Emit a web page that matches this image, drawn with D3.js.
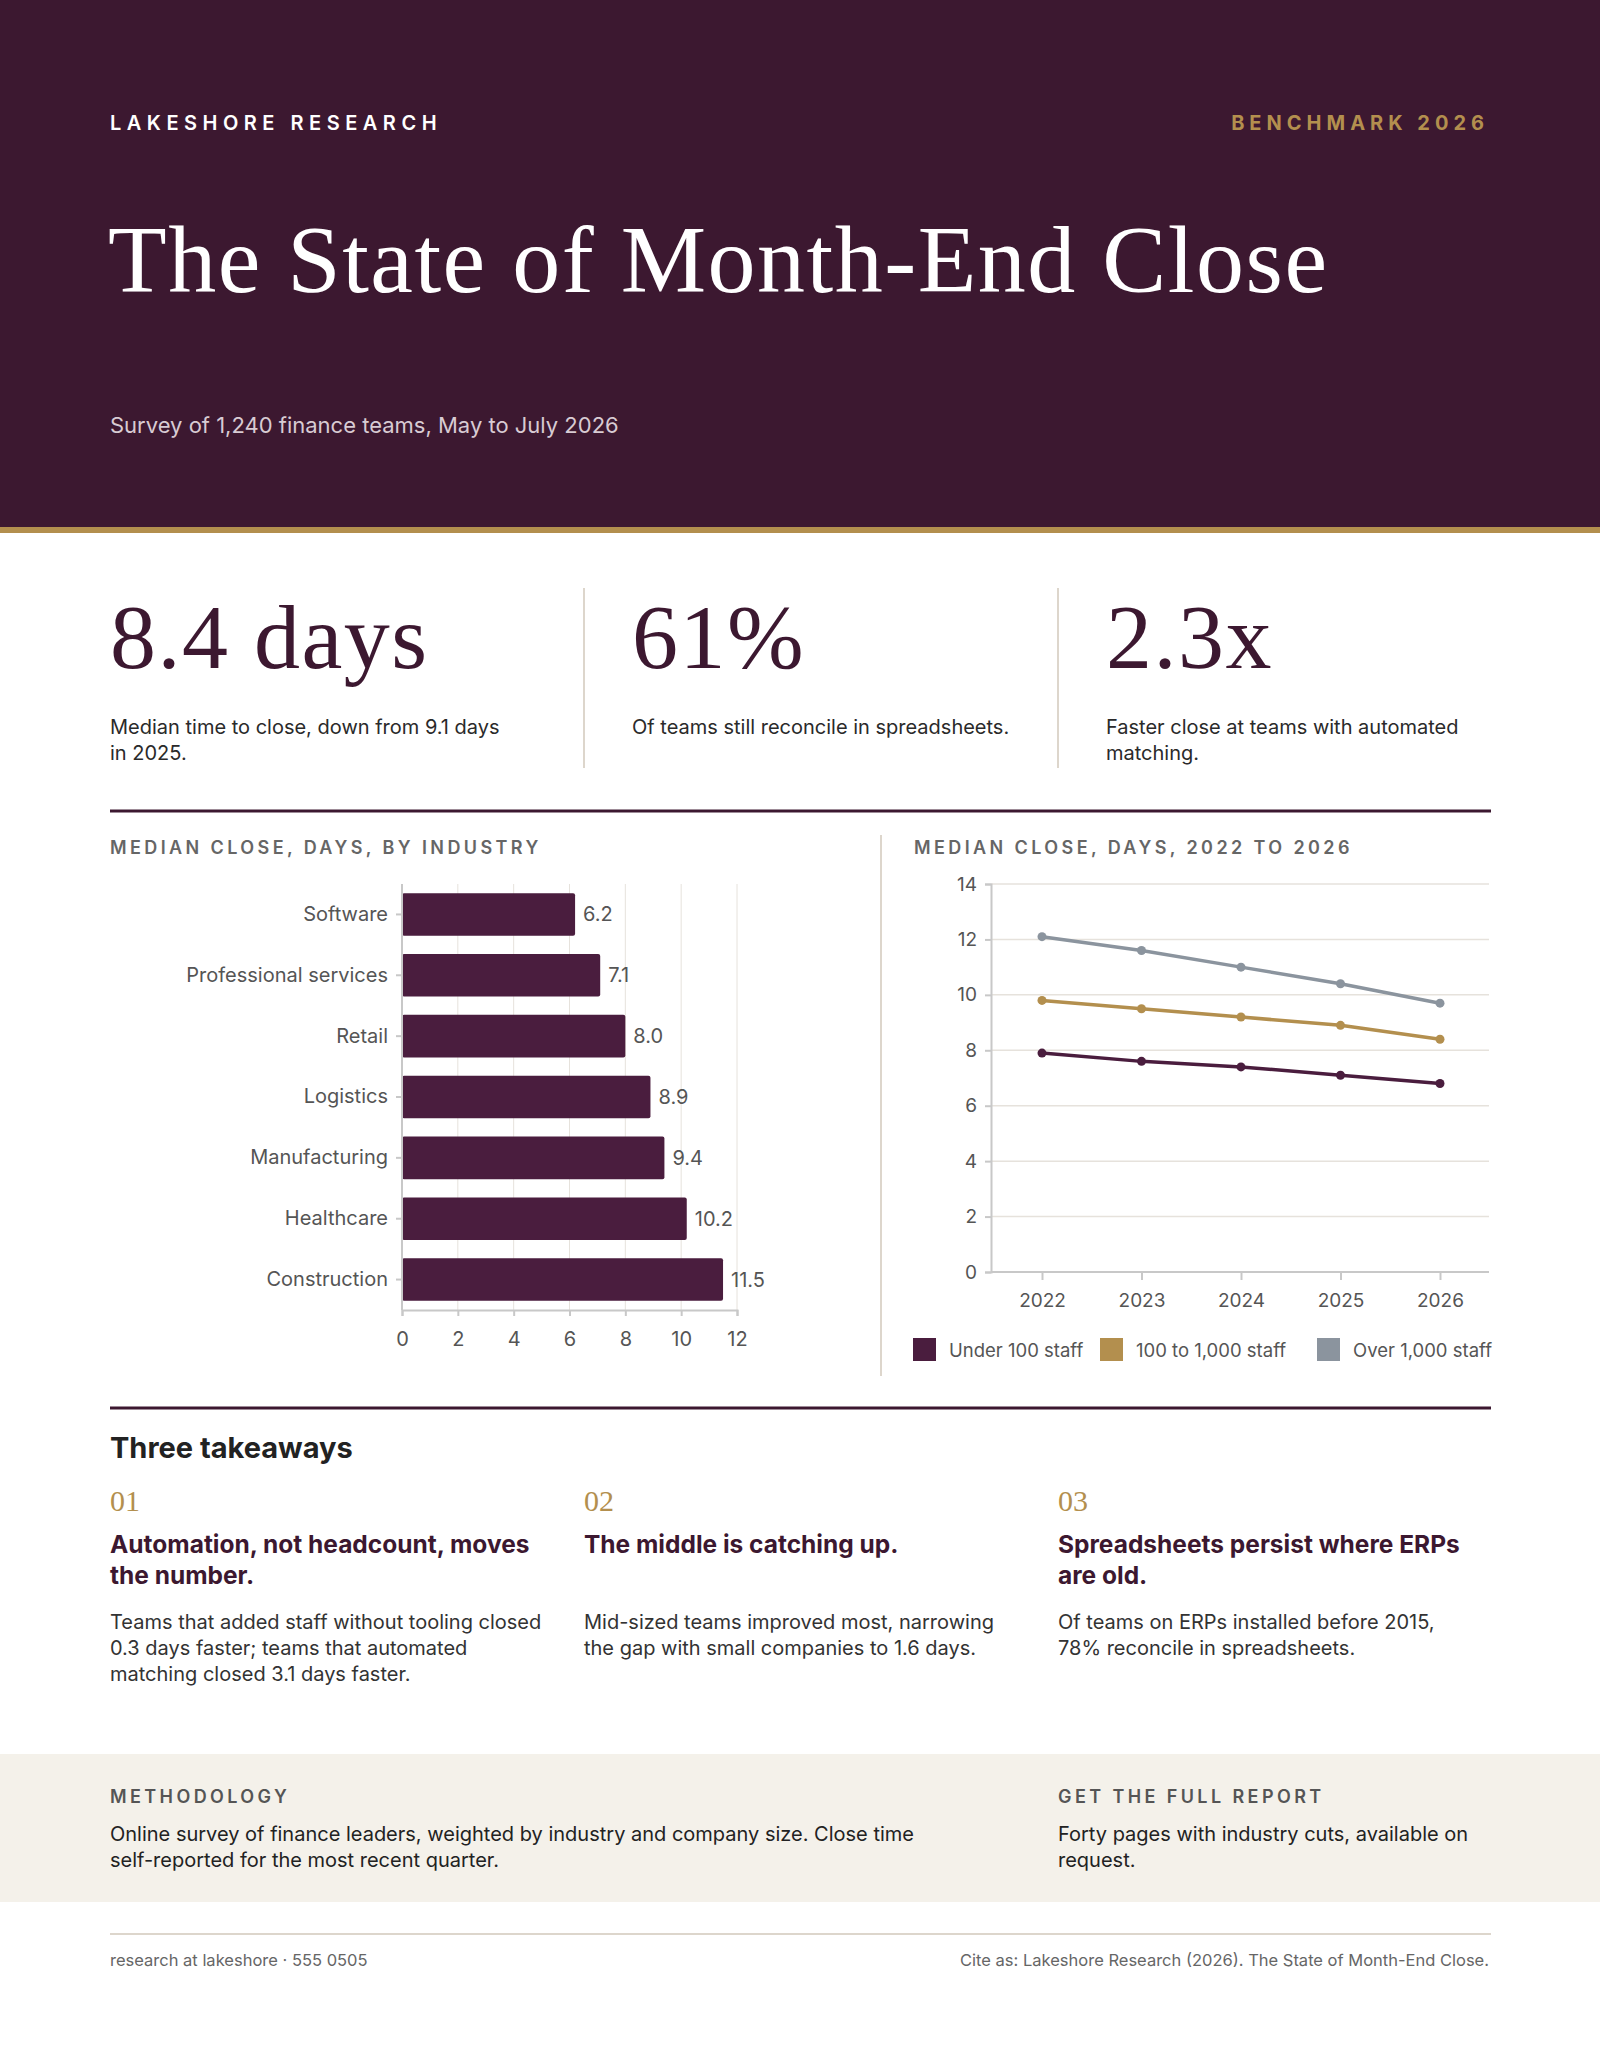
<!DOCTYPE html>
<html><head><meta charset="utf-8">
<script src="https://cdn.jsdelivr.net/npm/d3@7"></script>
<style>body{margin:0;background:#fff}svg{display:block}</style></head>
<body><svg id="c" width="1600" height="2071"></svg>
<script>
const industries=["Software","Professional services","Retail","Logistics","Manufacturing","Healthcare","Construction"];
const industryDays=[6.2,7.1,8.0,8.9,9.4,10.2,11.5];
const barTicks=[0,2,4,6,8,10,12];
const years=[2022,2023,2024,2025,2026];
const seriesNames=["Under 100 staff","100 to 1,000 staff","Over 1,000 staff"];
const under100=[7.9,7.6,7.4,7.1,6.8];
const mid=[9.8,9.5,9.2,8.9,8.4];
const over1000=[12.1,11.6,11.0,10.4,9.7];
const lineTicks=[0,2,4,6,8,10,12,14];

const P="#3c1830",BAR="#4a1d3e",GOLD="#b38f4e",GREY="#8b949e",SANS="Inter, 'Open Sans', sans-serif",SERIF="'Liberation Serif', 'DejaVu Serif', serif";
const svg=d3.select("#c");
const T=(x,y,s,o={})=>{const t=svg.append("text").attr("x",x).attr("y",y).text(s)
 .attr("font-family",o.f||SANS).attr("font-size",o.s||20).attr("fill",o.c||"#2a2a2a")
 .attr("font-weight",o.w||400).attr("text-anchor",o.a||"start");
 if(o.ls)t.attr("letter-spacing",o.ls);return t;};

// header
svg.append("rect").attr("width",1600).attr("height",527).attr("fill",P);
svg.append("rect").attr("y",527).attr("width",1600).attr("height",6).attr("fill",GOLD);
T(110,130,"LAKESHORE RESEARCH",{s:20,c:"#fff",w:600,ls:5.5});
T(1489,130,"BENCHMARK 2026",{s:20,c:GOLD,w:700,ls:5,a:"end"});
T(108,292,"The State of Month-End Close",{f:SERIF,s:96,c:"#fff",ls:1.5});
T(110,433,"Survey of 1,240 finance teams, May to July 2026",{s:22,c:"#d8cbd3"});

// stats
const stats=[[110,"8.4 days",["Median time to close, down from 9.1 days","in 2025."]],
 [632,"61%",["Of teams still reconcile in spreadsheets."]],
 [1106,"2.3x",["Faster close at teams with automated","matching."]]];
stats.forEach(([x,big,lines])=>{T(x,668,big,{f:SERIF,s:92,c:P,ls:1.5});
 lines.forEach((l,i)=>T(x,734+i*26,l,{s:20}));});
[584,1058].forEach(x=>svg.append("line").attr("x1",x).attr("x2",x).attr("y1",588).attr("y2",768).attr("stroke","#ddd6cc").attr("stroke-width",2));
[811,1408].forEach(y=>svg.append("rect").attr("x",110).attr("y",y-1.5).attr("width",1381).attr("height",3).attr("fill",P));

// bar chart
T(110,854,"MEDIAN CLOSE, DAYS, BY INDUSTRY",{s:18,c:"#666",w:600,ls:3.4});
const x=d3.scaleLinear().domain([0,12]).range([402,737]);
const y=d3.scaleBand().domain(industries).range([884,1310]).paddingInner(0.3).paddingOuter(0.15);
const gb=svg.append("g");
gb.selectAll("line.g").data(barTicks.slice(1)).join("line").attr("x1",d=>x(d)).attr("x2",d=>x(d)).attr("y1",884).attr("y2",1310).attr("stroke","#e6e2dc");
gb.selectAll("rect").data(industries).join("rect").attr("x",x(0)).attr("y",d=>y(d)).attr("height",y.bandwidth())
 .attr("width",(d,i)=>x(industryDays[i])-x(0)).attr("fill",BAR).attr("rx",2);
gb.selectAll("text.v").data(industries).join("text").attr("x",(d,i)=>x(industryDays[i])+8).attr("y",d=>y(d)+y.bandwidth()/2+7)
 .text((d,i)=>industryDays[i].toFixed(1)).attr("font-family",SANS).attr("font-size",20).attr("fill","#555");
const ax=svg.append("g").attr("transform","translate(0,1310)").call(d3.axisBottom(x).tickValues(barTicks).tickSize(6).tickPadding(16));
const ay=svg.append("g").attr("transform","translate(402,0)").call(d3.axisLeft(y).tickSize(6).tickPadding(8));
[ax,ay].forEach(a=>{a.selectAll("path,line").attr("stroke","#c8c8c8").attr("stroke-width",2);
 a.selectAll("text").attr("font-family",SANS).attr("font-size",20).attr("fill","#555");});
ay.select(".domain").attr("d","M0,884V1310");

svg.append("line").attr("x1",881).attr("x2",881).attr("y1",835).attr("y2",1376).attr("stroke","#ddd6cc").attr("stroke-width",2);

// line chart
T(914,854,"MEDIAN CLOSE, DAYS, 2022 TO 2026",{s:18,c:"#666",w:600,ls:3.4});
const lx=d3.scalePoint().domain(years).range([1042,1440]);
const ly=d3.scaleLinear().domain([0,14]).range([1272,884]);
svg.append("g").selectAll("line").data(lineTicks.slice(1)).join("line").attr("x1",991).attr("x2",1489)
 .attr("y1",d=>ly(d)).attr("y2",d=>ly(d)).attr("stroke","#e6e2dc").attr("stroke-width",1.5);
const lax=svg.append("g").attr("transform","translate(0,1272)").call(d3.axisBottom(lx).tickSize(8).tickPadding(14));
lax.select(".domain").attr("d","M991,0H1489");
const lay=svg.append("g").attr("transform","translate(991,0)").call(d3.axisLeft(ly).tickValues(lineTicks).tickSize(6).tickPadding(8));
[lax,lay].forEach(a=>{a.selectAll("path,line").attr("stroke","#c8c8c8").attr("stroke-width",2);
 a.selectAll("text").attr("font-family",SANS).attr("font-size",19).attr("fill","#555");});
const series=[under100,mid,over1000],cols=[BAR,GOLD,GREY];
const line=d3.line().x((d,i)=>lx(years[i])).y(d=>ly(d));
series.forEach((s,k)=>{svg.append("path").attr("d",line(s)).attr("fill","none").attr("stroke",cols[k]).attr("stroke-width",3.5);
 svg.append("g").selectAll("circle").data(s).join("circle").attr("cx",(d,i)=>lx(years[i])).attr("cy",d=>ly(d)).attr("r",4.5).attr("fill",cols[k]);});
const lgx=[913,1100,1317];
seriesNames.forEach((n,k)=>{svg.append("rect").attr("x",lgx[k]).attr("y",1338).attr("width",23).attr("height",23).attr("fill",cols[k]);
 T(lgx[k]+36,1357,n,{s:18.5,c:"#555"});});

// takeaways
T(110,1458,"Three takeaways",{s:29,w:700,c:"#222"});
const tk=[["01",["Automation, not headcount, moves","the number."],["Teams that added staff without tooling closed","0.3 days faster; teams that automated","matching closed 3.1 days faster."]],
 ["02",["The middle is catching up."],["Mid-sized teams improved most, narrowing","the gap with small companies to 1.6 days."]],
 ["03",["Spreadsheets persist where ERPs","are old."],["Of teams on ERPs installed before 2015,","78% reconcile in spreadsheets."]]];
[110,584,1058].forEach((xx,i)=>{const [n,h,b]=tk[i];
 T(xx,1511,n,{f:SERIF,s:30,c:GOLD});
 h.forEach((l,j)=>T(xx,1553+j*31,l,{s:24.5,w:700,c:P}));
 b.forEach((l,j)=>T(xx,1629+j*26,l,{s:20,c:"#333"}));});

// methodology band
svg.append("rect").attr("y",1754).attr("width",1600).attr("height",148).attr("fill","#f4f1ea");
T(110,1803,"METHODOLOGY",{s:18,c:"#555",w:600,ls:3.4});
["Online survey of finance leaders, weighted by industry and company size. Close time","self-reported for the most recent quarter."].forEach((l,j)=>T(110,1841+j*26,l,{s:20,c:"#222"}));
T(1058,1803,"GET THE FULL REPORT",{s:18,c:"#555",w:600,ls:3.4});
["Forty pages with industry cuts, available on","request."].forEach((l,j)=>T(1058,1841+j*26,l,{s:20,c:"#222"}));

svg.append("line").attr("x1",110).attr("x2",1491).attr("y1",1934).attr("y2",1934).attr("stroke","#ddd6cc").attr("stroke-width",2);
T(110,1966,"research at lakeshore · 555 0505",{s:16.5,c:"#666"});
T(1489,1966,"Cite as: Lakeshore Research (2026). The State of Month-End Close.",{s:16.5,c:"#666",a:"end"});
</script></body></html>
